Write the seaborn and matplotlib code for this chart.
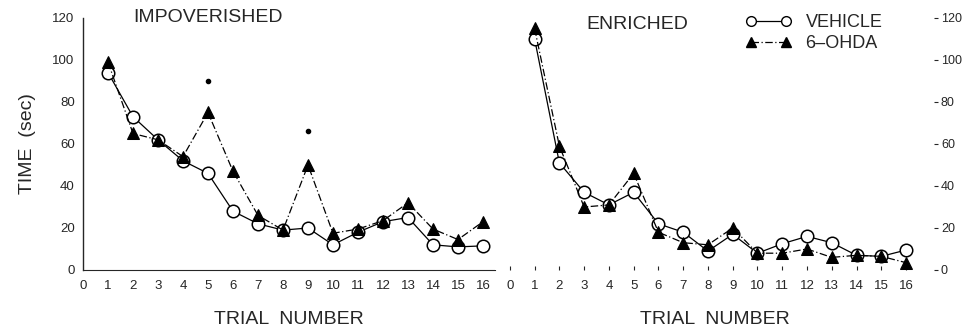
import matplotlib
matplotlib.use("Agg")
import matplotlib.pyplot as plt
import seaborn as sns
import pandas as pd
from matplotlib.lines import Line2D

# data
trials = list(range(1, 17))
imp_vehicle = [94, 73, 62, 52, 46, 28, 22, 19, 20, 12, 18, 23, 25, 12, 11, 11.5]
imp_ohda = [99, 65, 62, 54, 75, 47, 26, 19, 50, 17.5, 19.5, 23.5, 32, 19.5, 14.5, 23]
enr_vehicle = [110, 51, 37, 31, 37, 22, 18, 9, 17, 8, 12.5, 16, 13, 7, 6.5, 9.5]
enr_ohda = [115, 59, 30, 31, 46, 18, 13, 12, 20, 8, 8, 10, 6, 7, 6.5, 3.5]
sig_trials = [5, 9]
sig_values = [90, 66]

sns.set_style("white")
plt.rcParams['font.family'] = ['Liberation Sans', 'DejaVu Sans']

fig = plt.figure(figsize=(9.64, 3.33), dpi=100)
W, H = 964, 333
ybot = (H - 270) / H
yh = 252 / H
ax1 = fig.add_axes([83 / W, ybot, (495 - 83) / W, yh])
ax2 = fig.add_axes([495 / W, ybot, (934 - 495) / W, yh])

dashdot = (0, (6, 2, 1, 2))


def draw(ax, veh, ohda):
    df = pd.DataFrame({"trial": trials, "vehicle": veh, "ohda": ohda})
    sns.lineplot(data=df, x="trial", y="vehicle", ax=ax, color="black", lw=0.9,
                 marker="o", markersize=9, mfc="white", mec="black", mew=1.1,
                 clip_on=False, zorder=3)
    sns.lineplot(data=df, x="trial", y="ohda", ax=ax, color="black", lw=0.9,
                 linestyle=dashdot, marker="^", markersize=8,
                 mfc="black", mec="black", clip_on=False, zorder=4)
    ax.set_ylim(0, 120)
    ax.set_xticks(range(0, 17))
    ax.set_yticks(range(0, 121, 20))
    ax.tick_params(labelsize=9.5, length=3, width=0.8, pad=3)
    ax.tick_params(axis="x", direction="in", pad=7)
    ax.set_xlabel("TRIAL  NUMBER", fontsize=14, labelpad=14)
    ax.set_ylabel("")


draw(ax1, imp_vehicle, imp_ohda)
ax1.set_xlim(0, 16.48)
ax1.plot(sig_trials, sig_values, "o", color="black", markersize=3)
for s in ["top", "right"]:
    ax1.spines[s].set_visible(False)
ax1.spines["left"].set_linewidth(1.0)
ax1.spines["bottom"].set_linewidth(0.8)
ax1.set_ylabel("TIME  (sec)", fontsize=14, labelpad=12)
ax1.text(2.0, 120, "IMPOVERISHED", fontsize=14, va="center")

draw(ax2, enr_vehicle, enr_ohda)
ax2.set_xlim(-0.6, 17.13)
for s in ["top", "left", "bottom", "right"]:
    ax2.spines[s].set_visible(False)
ax2.yaxis.tick_right()
ax2.tick_params(axis="y", left=False, right=True, labelleft=False, labelright=True,
                pad=2, labelsize=9)
ax2.tick_params(axis="x", bottom=True)
ax2.text(3.1, 117, "ENRICHED", fontsize=14, va="center")

handles = [
    Line2D([], [], color="black", lw=0.9, marker="o", mfc="white", mec="black",
           markersize=7),
    Line2D([], [], color="black", lw=0.9, linestyle=dashdot, marker="^",
           mfc="black", markersize=7),
]
# legend anchored so its handles start near trial 9.5 of the enriched panel
ax2.legend(handles, ["VEHICLE", "6\u2013OHDA"], loc="upper left",
           bbox_to_anchor=(0.555, 1.045), frameon=False, fontsize=13,
           handlelength=2.5, numpoints=2, labelspacing=0.25, handletextpad=0.8,
           borderaxespad=0)

fig.savefig("out.png", dpi=100)
